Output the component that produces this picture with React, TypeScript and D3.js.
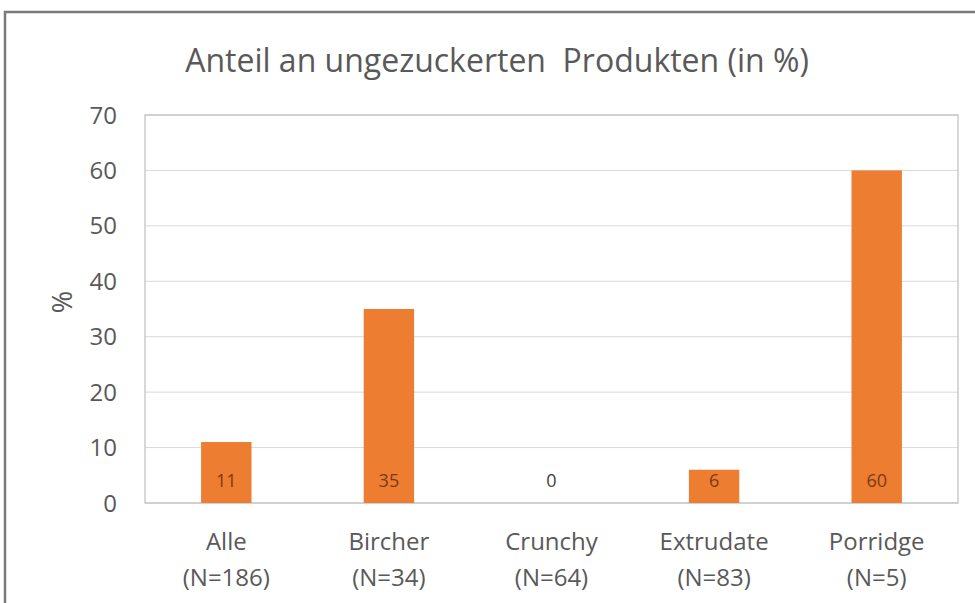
import React, { useRef, useEffect } from "react";
import * as d3 from "d3";

const categories = ["Alle", "Bircher", "Crunchy", "Extrudate", "Porridge"];
const sampleSizes = ["(N=186)", "(N=34)", "(N=64)", "(N=83)", "(N=5)"];
const shares = [11, 35, 0, 6, 60];
const yTicks = [0, 10, 20, 30, 40, 50, 60, 70];

const FONT = "'Open Sans', 'Noto Sans', sans-serif";

function App() {
  const svgRef = useRef<SVGSVGElement | null>(null);

  useEffect(() => {
    const svg = d3.select(svgRef.current);
    svg.selectAll("*").remove();
    const width = 975;
    const height = 603;
    const margin = { top: 115, right: 17, bottom: 100, left: 145 };
    const innerWidth = width - margin.left - margin.right;
    const innerHeight = 503 - margin.top;

    svg.attr("width", width).attr("height", height);

    svg
      .append("rect")
      .attr("x", 0)
      .attr("y", 0)
      .attr("width", width)
      .attr("height", height)
      .attr("fill", "#fff");

    // outer chart frame
    svg
      .append("path")
      .attr("d", `M5,${height} V12 H${width}`)
      .attr("fill", "none")
      .attr("stroke", "#7a7a7a")
      .attr("stroke-width", 2.5);

    const x = d3
      .scaleBand()
      .domain(categories)
      .range([0, innerWidth])
      .paddingInner(0.69)
      .paddingOuter(0.345);

    const y = d3.scaleLinear().domain([0, 70]).range([innerHeight, 0]);

    const g = svg
      .append("g")
      .attr("transform", `translate(${margin.left},${margin.top})`);

    // gridlines
    g.selectAll("line.grid")
      .data(yTicks)
      .enter()
      .append("line")
      .attr("class", "grid")
      .attr("x1", 0)
      .attr("x2", innerWidth)
      .attr("y1", (d) => y(d))
      .attr("y2", (d) => y(d))
      .attr("stroke", "#d9d9d9")
      .attr("stroke-width", 1);

    // plot area border
    g.append("rect")
      .attr("x", 0)
      .attr("y", 0)
      .attr("width", innerWidth)
      .attr("height", innerHeight)
      .attr("fill", "none")
      .attr("stroke", "#bfbfbf")
      .attr("stroke-width", 1.2);

    // y tick labels
    g.selectAll("text.ytick")
      .data(yTicks)
      .enter()
      .append("text")
      .attr("class", "ytick")
      .attr("x", -28)
      .attr("y", (d) => y(d))
      .attr("dy", "0.36em")
      .attr("text-anchor", "end")
      .attr("fill", "#595959")
      .style("font-family", FONT)
      .style("font-size", "24px")
      .text((d) => d);

    const rows = categories.map((c, i) => ({ c, n: sampleSizes[i], v: shares[i] }));

    g.selectAll("rect.bar")
      .data(rows)
      .enter()
      .append("rect")
      .attr("class", "bar")
      .attr("x", (d) => x(d.c)!)
      .attr("y", (d) => y(d.v))
      .attr("width", x.bandwidth())
      .attr("height", (d) => innerHeight - y(d.v))
      .attr("fill", "#ed7d31");

    // value labels
    g.selectAll("text.val")
      .data(rows)
      .enter()
      .append("text")
      .attr("class", "val")
      .attr("x", (d) => x(d.c)! + x.bandwidth() / 2)
      .attr("y", innerHeight - 22)
      .attr("dy", "0.36em")
      .attr("text-anchor", "middle")
      .attr("fill", (d) => (d.v > 0 ? "#7b3a12" : "#404040"))
      .style("font-family", FONT)
      .style("font-size", "18px")
      .text((d) => d.v);

    // category labels
    const cat = g
      .selectAll("g.cat")
      .data(rows)
      .enter()
      .append("g")
      .attr("class", "cat")
      .attr(
        "transform",
        (d) => `translate(${x(d.c)! + x.bandwidth() / 2},${innerHeight})`
      );
    cat
      .append("text")
      .attr("y", 38)
      .attr("dy", "0.36em")
      .attr("text-anchor", "middle")
      .attr("fill", "#595959")
      .style("font-family", FONT)
      .style("font-size", "24px")
      .text((d) => d.c);
    cat
      .append("text")
      .attr("y", 74)
      .attr("dy", "0.36em")
      .attr("text-anchor", "middle")
      .attr("fill", "#595959")
      .style("font-family", FONT)
      .style("font-size", "24px")
      .text((d) => d.n);

    // y axis title
    svg
      .append("text")
      .attr("transform", `translate(62,302) rotate(-90)`)
      .attr("dy", "0.36em")
      .attr("text-anchor", "middle")
      .attr("fill", "#595959")
      .style("font-family", FONT)
      .style("font-size", "27px")
      .text("%");

    // chart title
    svg
      .append("text")
      .attr("x", 497)
      .attr("y", 60)
      .attr("dy", "0.36em")
      .attr("text-anchor", "middle")
      .attr("fill", "#595959")
      .style("font-family", FONT)
      .style("font-size", "32px")
      .style("white-space", "pre")
      .text("Anteil an ungezuckerten  Produkten (in %)");
  }, []);

  return (
    <svg
      ref={svgRef}
      style={{ position: "absolute", left: 0, top: 0, display: "block" }}
    ></svg>
  );
}

export default App;
